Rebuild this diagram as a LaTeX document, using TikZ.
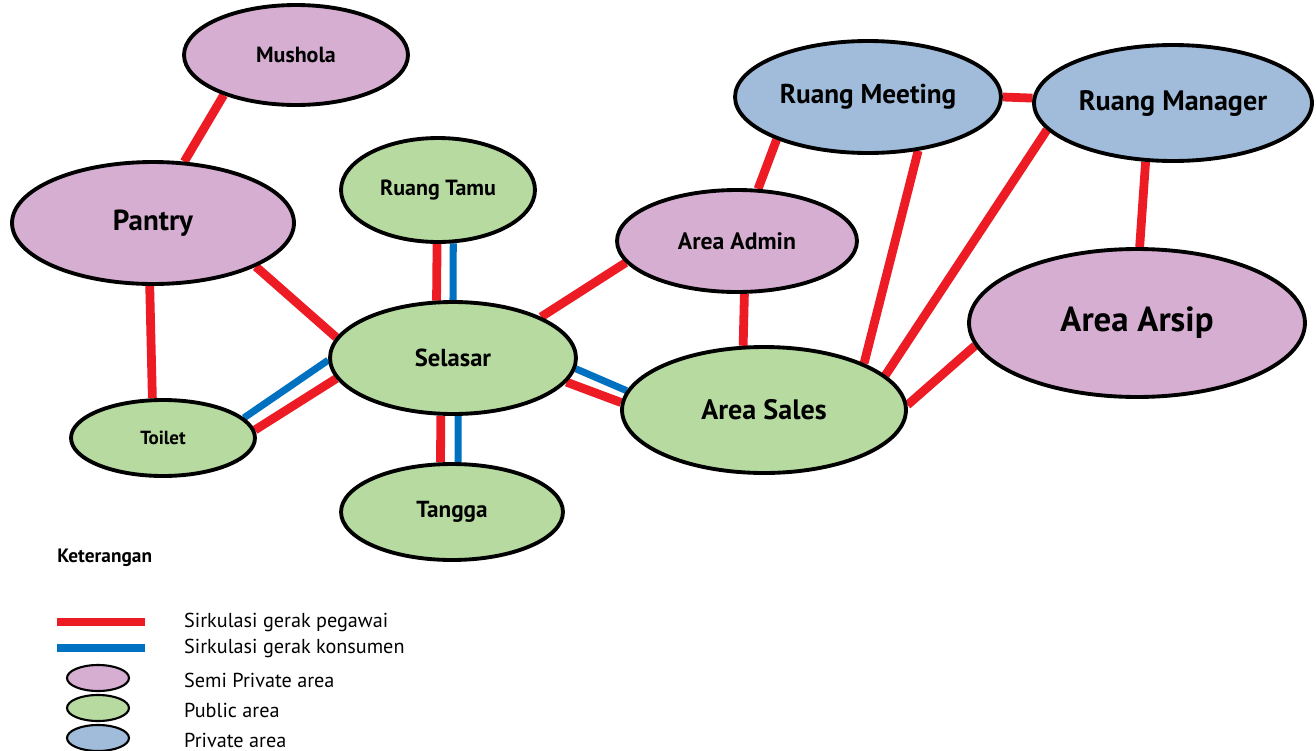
\documentclass[tikz,border=0pt]{standalone}
\usepackage{fontspec}
\setmainfont{PT Sans}
\usetikzlibrary{shapes.geometric,backgrounds}
\definecolor{semicol}{RGB}{213,174,210}
\definecolor{publiccol}{RGB}{182,218,160}
\definecolor{privatecol}{RGB}{160,188,218}
\definecolor{redline}{RGB}{237,28,36}
\definecolor{blueline}{RGB}{0,112,192}
\tikzstyle{room} = [ellipse, draw=black, line width=2.2pt, inner sep=0pt,
    font=\bfseries]
\tikzstyle{semi} = [room, fill=semicol]
\tikzstyle{public} = [room, fill=publiccol]
\tikzstyle{private} = [room, fill=privatecol]
\tikzstyle{staff} = [draw=redline, line width=5pt]
\tikzstyle{guest} = [draw=blueline, line width=4pt]
\tikzstyle{legtext} = [anchor=west, font=\fontsize{11.5}{13}\selectfont]

\begin{document}
\begin{tikzpicture}[x=0.02cm, y=-0.02cm]
    \useasboundingbox (0,0) rectangle (1316,751);

    % Place rooms
    \node [semi, minimum width=4.48cm, minimum height=2cm,
        font=\bfseries\fontsize{12.5}{14}\selectfont] (mushola) at (296,55) {Mushola};
    \node [semi, minimum width=5.64cm, minimum height=2.44cm,
        font=\bfseries\fontsize{16.5}{18}\selectfont] (pantry) at (153,223) {Pantry};
    \node [public, minimum width=3.88cm, minimum height=2.08cm,
        font=\bfseries\fontsize{12.5}{14}\selectfont] (tamu) at (438,190) {Ruang Tamu};
    \node [public, minimum width=4.92cm, minimum height=2.24cm,
        font=\bfseries\fontsize{14}{16}\selectfont] (selasar) at (453,358) {Selasar};
    \node [public, minimum width=3.68cm, minimum height=1.52cm,
        font=\bfseries\fontsize{10.8}{12}\selectfont] (toilet) at (163,438) {Toilet};
    \node [public, minimum width=4.44cm, minimum height=1.92cm,
        font=\bfseries\fontsize{13.2}{15}\selectfont] (tangga) at (452,512) {Tangga};
    \node [semi, minimum width=4.8cm, minimum height=2.04cm,
        font=\bfseries\fontsize{13.5}{15}\selectfont] (admin) at (737,241) {Area Admin};
    \node [private, minimum width=5.32cm, minimum height=2.24cm,
        font=\bfseries\fontsize{15.5}{17}\selectfont] (meeting) at (868,97) {Ruang Meeting};
    \node [private, minimum width=5.56cm, minimum height=2.32cm,
        font=\bfseries\fontsize{16}{18}\selectfont] (manager) at (1173,103) {Ruang Manager};
    \node [semi, minimum width=6.72cm, minimum height=2.96cm,
        font=\bfseries\fontsize{19.8}{22}\selectfont] (arsip) at (1137,323) {Area Arsip};
    \node [public, minimum width=5.68cm, minimum height=2.52cm,
        font=\bfseries\fontsize{16}{18}\selectfont] (sales) at (764,410) {Area Sales};

    % Draw edges
    \begin{scope}[on background layer]
    \path [staff] (mushola.209) -- (pantry.63);
    \path [staff] (pantry.267) -- (toilet.105);
    \path [staff] (pantry.337) -- (selasar.170);
    \path [staff] (selasar.25) -- (admin.191);
    \path [staff] (admin.68) -- (meeting.205);
    \path [staff] (admin.278) -- (sales.108);
    \path [staff] (meeting.0) -- (manager.178);
    \path [staff] (meeting.313) -- (sales.25);
    \path [staff] (manager.192) -- (sales.16);
    \path [staff] (manager.245) -- (arsip.88);
    \path [staff] (arsip.188) -- (sales.2);
    % double lines
    \path [staff] (tamu.269) -- (selasar.106);
    \path [guest] (tamu.286) -- (selasar.90);
    \path [staff] (selasar.258) -- (tangga.103);
    \path [guest] (selasar.275) -- (tangga.83);
    \path [guest] (selasar.181) -- (toilet.14);
    \path [staff] (selasar.190) -- (toilet.5);
    \path [guest] (selasar.355) -- (sales.172);
    \path [staff] (selasar.348) -- (sales.177);
    \end{scope}

    % Legend
    \node [anchor=west, inner sep=0pt, font=\bfseries\fontsize{11}{13}\selectfont] (ket) at (57,558) {Keterangan};
    \coordinate (r0) at (57,622);
    \coordinate (r1) at (145,622);
    \coordinate (b0) at (57,648);
    \coordinate (b1) at (145,648);
    \path [draw=redline, line width=4.5pt] (r0) -- (r1);
    \path [draw=blueline, line width=4.5pt] (b0) -- (b1);
    \node [legtext] (lpeg) at (178,622) {Sirkulasi gerak pegawai};
    \node [legtext] (lkon) at (178,648) {Sirkulasi gerak konsumen};
    \node [semi, line width=1.2pt, minimum width=1.24cm, minimum height=0.52cm] (ls) at (98,678) {};
    \node [public, line width=1.2pt, minimum width=1.24cm, minimum height=0.52cm] (lp) at (98,708) {};
    \node [private, line width=1.2pt, minimum width=1.24cm, minimum height=0.52cm] (lv) at (98,738) {};
    \node [legtext] (tsemi) at (178,680) {Semi Private area};
    \node [legtext] (tpub) at (178,710) {Public area};
    \node [legtext] (tpriv) at (178,740) {Private area};

\end{tikzpicture}
\end{document}
